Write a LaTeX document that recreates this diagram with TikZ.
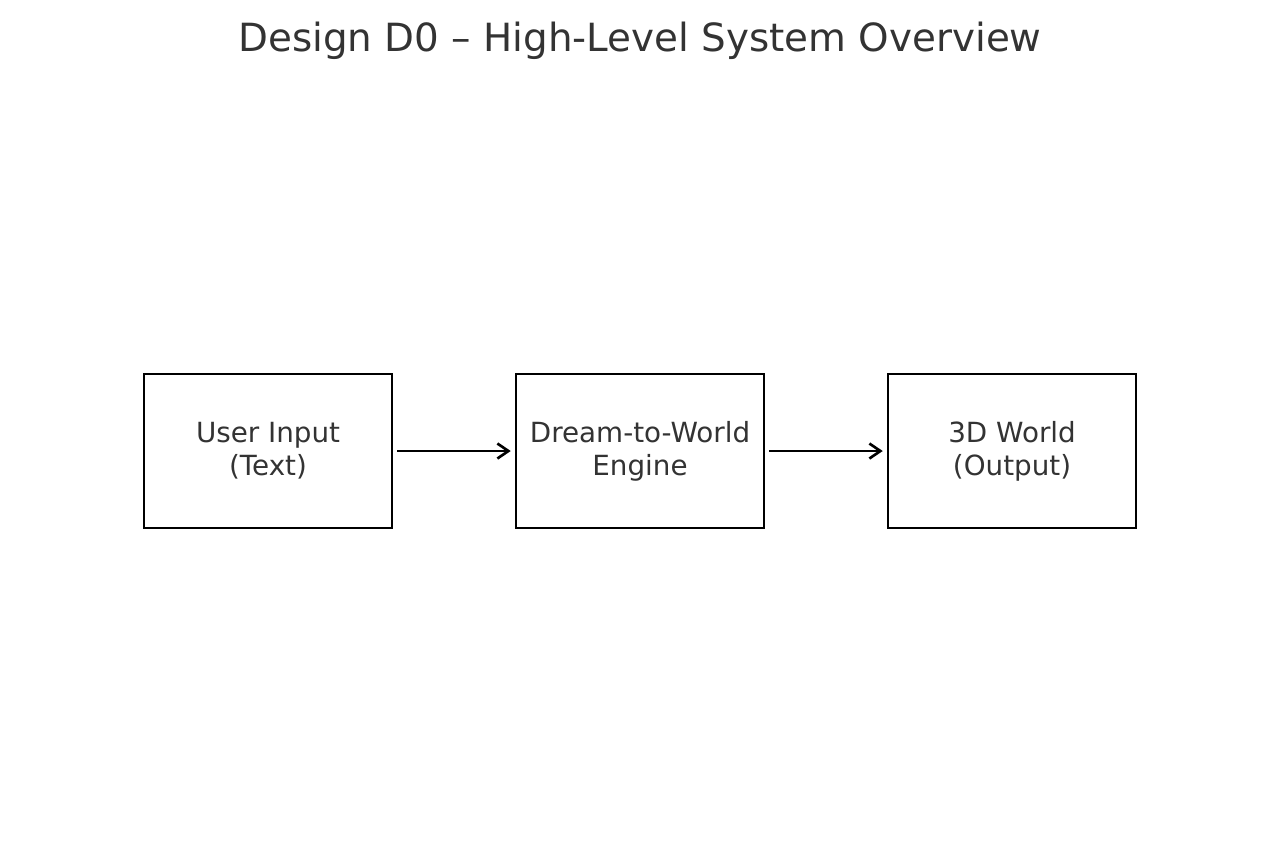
\documentclass[tikz,border=0pt]{standalone}
\usepackage{fontspec}
\setmainfont{DejaVu Sans}
\usetikzlibrary{arrows.meta}
\definecolor{txtgray}{HTML}{333333}
\begin{document}
\begin{tikzpicture}[
	block/.style={rectangle, align=center, fill=white, draw, line width=0.8pt, minimum width=2.48cm, minimum height=1.54cm, text=txtgray, font=\fontsize{7.9}{9.4}\selectfont},
	flow/.style={->, >={Straight Barb[length=1.1mm, width=1.5mm]}, line width=0.75pt, shorten <=1.1pt, shorten >=1.1pt}]
	\useasboundingbox (0,0) rectangle (12.8,8.56);
	%Title:
	\node[anchor=base, text=txtgray, font=\fontsize{11.05}{13.3}\selectfont] (title) at (6.4, 8.05) {Design D0 -- High-Level System Overview};
	%Nodes:
	\node[block] (input) at (2.68, 4.05) {User Input\\(Text)};
	\node[block] (engine) at (6.40, 4.05) {Dream-to-World\\Engine};
	\node[block] (world) at (10.12, 4.05) {3D World\\(Output)};
	%Edges:
	\draw[flow] (input.east) -- (engine.west);
	\draw[flow] (engine.east) -- (world.west);
\end{tikzpicture}
\end{document}
